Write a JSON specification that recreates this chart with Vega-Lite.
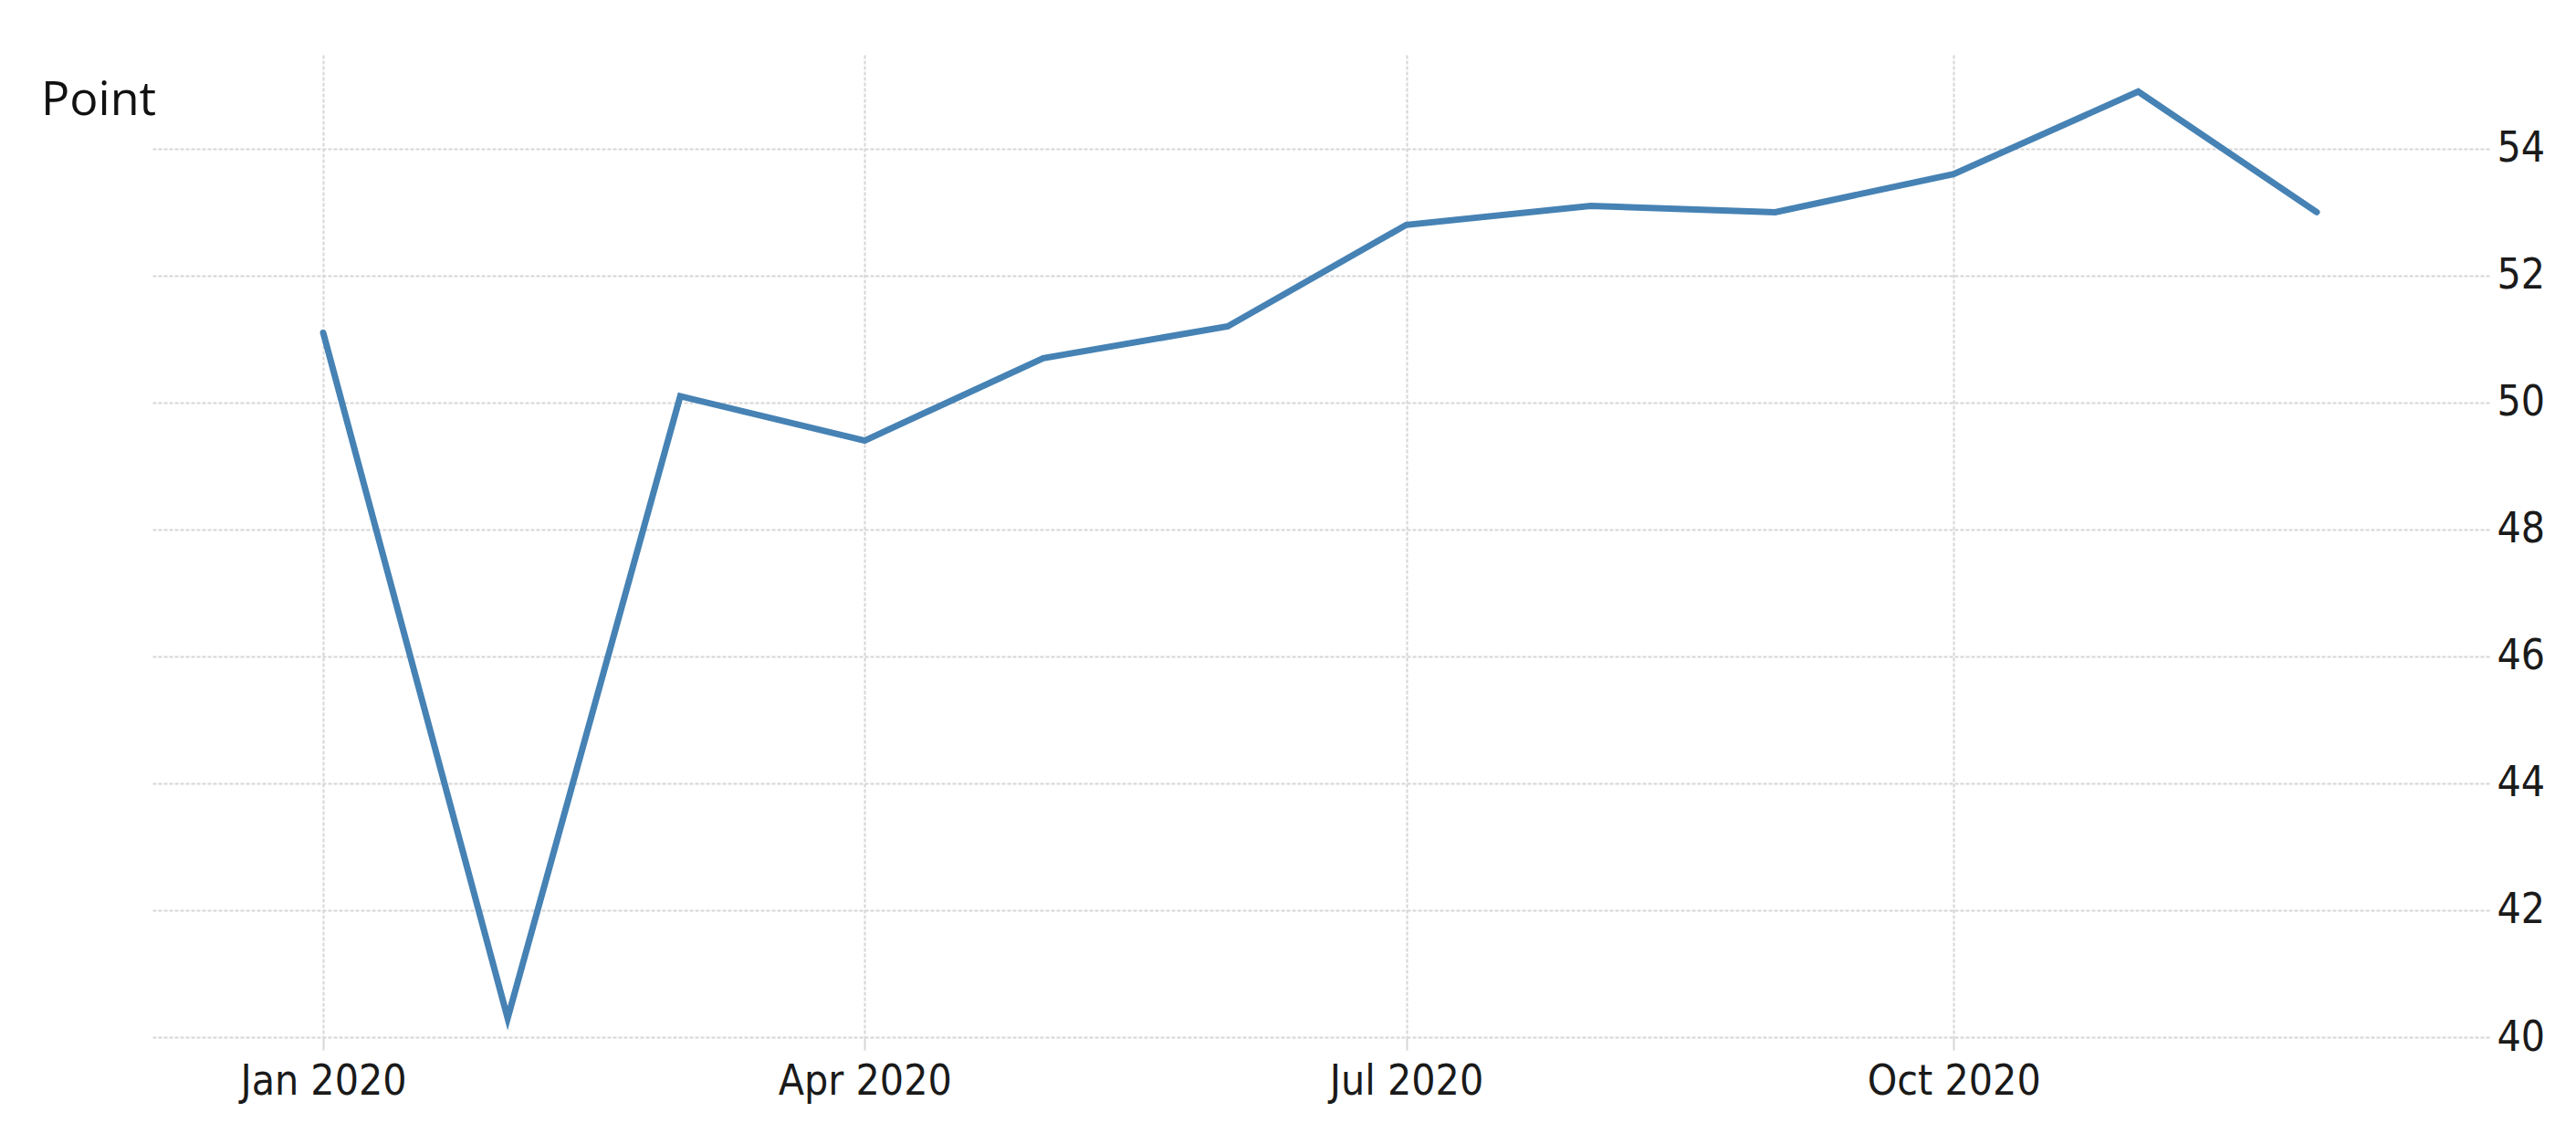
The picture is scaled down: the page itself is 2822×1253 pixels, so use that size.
{
  "$schema": "https://vega.github.io/schema/vega-lite/v6.json",
  "autosize": {"type": "none"},
  "width": 2562,
  "height": 1076,
  "padding": {"left": 165, "top": 60, "right": 95, "bottom": 117},
  "background": "white",
  "title": {
    "text": "Point",
    "anchor": "start",
    "frame": "group",
    "font": "Open Sans",
    "fontSize": 52,
    "fontWeight": "normal",
    "color": "#111111",
    "baseline": "alphabetic",
    "offset": 0,
    "dx": -120,
    "dy": 118
  },
  "config": {
    "view": {"stroke": null},
    "axis": {
      "labelFont": "DejaVu Sans Condensed, Roboto, sans-serif",
      "labelFontSize": 46,
      "labelColor": "#1a1a1a",
      "labelLimit": 0,
      "gridColor": "#d6d6d6",
      "gridWidth": 2,
      "gridDash": [4, 2],
      "domain": false
    }
  },
  "data": {
    "values": [
      {"date": "2020-01-01T00:00:00", "value": 51.1},
      {"date": "2020-02-01T00:00:00", "value": 40.3},
      {"date": "2020-03-01T00:00:00", "value": 50.1},
      {"date": "2020-04-01T00:00:00", "value": 49.4},
      {"date": "2020-05-01T00:00:00", "value": 50.7},
      {"date": "2020-06-01T00:00:00", "value": 51.2},
      {"date": "2020-07-01T00:00:00", "value": 52.8},
      {"date": "2020-08-01T00:00:00", "value": 53.1},
      {"date": "2020-09-01T00:00:00", "value": 53.0},
      {"date": "2020-10-01T00:00:00", "value": 53.6},
      {"date": "2020-11-01T00:00:00", "value": 54.9},
      {"date": "2020-12-01T00:00:00", "value": 53.0}
    ]
  },
  "mark": {"type": "line", "color": "#4682b4", "strokeWidth": 7, "strokeJoin": "miter", "strokeCap": "round"},
  "encoding": {
    "x": {
      "field": "date",
      "type": "temporal",
      "scale": {
        "domain": [
          {"year": 2019, "month": 12, "date": 3},
          {"year": 2020, "month": 12, "date": 30}
        ]
      },
      "axis": {
        "title": null,
        "format": "%b %Y",
        "values": [
          {"year": 2020, "month": 1, "date": 1},
          {"year": 2020, "month": 4, "date": 1},
          {"year": 2020, "month": 7, "date": 1},
          {"year": 2020, "month": 10, "date": 1}
        ],
        "ticks": true,
        "tickSize": 14,
        "tickColor": "#d6d6d6",
        "tickWidth": 2,
        "labelPadding": 12,
        "labelBaseline": "top"
      }
    },
    "y": {
      "field": "value",
      "type": "quantitative",
      "scale": {"domain": [40, 55.48], "nice": false, "zero": false},
      "axis": {
        "orient": "right",
        "title": null,
        "values": [40, 42, 44, 46, 48, 50, 52, 54],
        "ticks": false,
        "labelPadding": 8
      }
    }
  }
}
